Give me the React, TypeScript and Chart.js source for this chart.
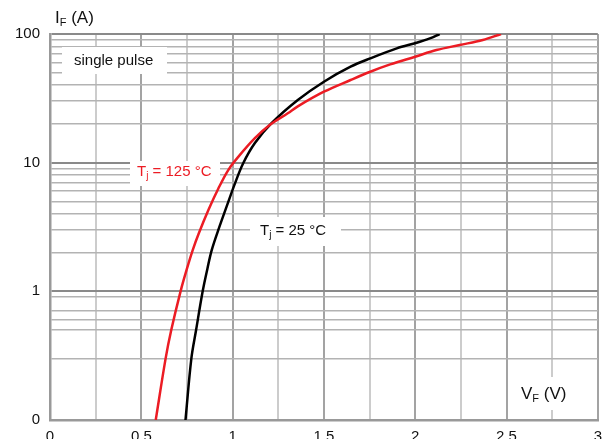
import React, { useEffect, useRef } from 'react';
import { Chart, registerables } from 'chart.js';

Chart.register(...registerables);

// forward voltage (V) vs forward current (A)
const VF_125 = [0.579, 0.633, 0.664, 0.715, 0.75, 0.782, 0.814, 0.868, 0.922, 0.977, 1.031, 1.122, 1.203, 1.302, 1.357, 1.5, 1.646, 1.754, 1.863, 2.0, 2.116, 2.243, 2.37, 2.47];
const IF_125 = [0.1, 0.3, 0.5, 1, 1.5, 2.1, 2.8, 4.3, 6.3, 8.8, 11.1, 15.5, 19.6, 24.2, 27.4, 35.6, 43.9, 50.9, 58, 66.6, 75, 82.1, 89.8, 100];

const VF_25 = [0.742, 0.774, 0.8, 0.836, 0.862, 0.886, 0.928, 0.967, 1.013, 1.058, 1.122, 1.212, 1.357, 1.5, 1.646, 1.754, 1.899, 2.008, 2.08, 2.134];
const IF_25 = [0.1, 0.3, 0.5, 1, 1.5, 2.1, 3.18, 4.55, 6.9, 9.9, 14.2, 20.2, 30.7, 42.6, 55.7, 64.7, 77.4, 85.6, 92.5, 100];

// horizontal grid lines of the original (the lowest decade is incomplete there)
const Y_GRID_LOW = [0.1, 0.3, 0.5, 0.6, 0.7, 0.9];
const Y_GRID_MID = [1, 2, 3, 4, 5, 6, 7, 8, 9];
const Y_GRID_HIGH = [10, 20, 30, 40, 50, 60, 70, 80, 90, 100];
const Y_GRID = [...Y_GRID_LOW, ...Y_GRID_MID, ...Y_GRID_HIGH];

const Y_LABEL_VALUES = [0.1, 1, 10, 100];
const Y_LABEL_TEXT = ['0', '1', '10', '100'];

const X_MIN = 0;
const X_MAX = 3;
const X_STEP = 0.25;

const RED = '#ec1c24';
const FONT = '"Liberation Sans", Arial, Helvetica, sans-serif';

type Seg = { t: string; sub?: boolean };

function drawRich(ctx: CanvasRenderingContext2D, segs: Seg[], x: number, y: number, size: number, color: string) {
  const subSize = Math.round(size * 0.66);
  ctx.save();
  ctx.fillStyle = color;
  ctx.textBaseline = 'middle';
  ctx.textAlign = 'left';
  let cx = x;
  segs.forEach(s => {
    ctx.font = `${s.sub ? subSize : size}px ${FONT}`;
    ctx.fillText(s.t, cx, s.sub ? y + size * 0.3 : y);
    cx += ctx.measureText(s.t).width;
  });
  ctx.restore();
}

const labelPlugin = {
  id: 'diodeLabels',
  beforeDatasetsDraw(chart: Chart) {
    const ctx = chart.ctx;
    const area = chart.chartArea;
    const box = (x0: number, y0: number, x1: number, y1: number) => {
      ctx.save();
      ctx.fillStyle = '#ffffff';
      ctx.fillRect(area.left + x0, area.top + y0, x1 - x0, y1 - y0);
      ctx.restore();
    };
    // white patches behind the annotations
    box(12, 13, 117, 40);
    box(80, 127, 170, 152);
    box(200, 183, 291, 212);
    box(465, 343, 528, 376);

    drawRich(ctx, [{ t: 'single pulse' }], area.left + 24, area.top + 27, 15, '#111');
    drawRich(ctx, [{ t: 'T' }, { t: 'j', sub: true }, { t: ' = 125 °C' }], area.left + 87, area.top + 138, 15, RED);
    drawRich(ctx, [{ t: 'T' }, { t: 'j', sub: true }, { t: ' = 25 °C' }], area.left + 210, area.top + 197, 15, '#111');
    drawRich(ctx, [{ t: 'V' }, { t: 'F', sub: true }, { t: ' (V)' }], area.left + 471, area.top + 360, 17, '#111');
  },
  afterDraw(chart: Chart) {
    const area = chart.chartArea;
    drawRich(chart.ctx, [{ t: 'I' }, { t: 'F', sub: true }, { t: ' (A)' }], area.left + 5, area.top - 16, 17, '#111');
  },
};

const App: React.FC = () => {
  const canvasRef = useRef<HTMLCanvasElement>(null);
  const chartRef = useRef<Chart | null>(null);

  useEffect(() => {
    document.body.style.margin = '0';
    if (!canvasRef.current) return;
    if (chartRef.current) chartRef.current.destroy();

    const hot = VF_125.map((v, i) => ({ x: v, y: IF_125[i] }));
    const cold = VF_25.map((v, i) => ({ x: v, y: IF_25[i] }));

    chartRef.current = new Chart(canvasRef.current, {
      type: 'line',
      data: {
        datasets: [
          {
            label: 'Tj = 125 °C',
            data: hot,
            borderColor: RED,
            borderWidth: 2.5,
            pointRadius: 0,
            tension: 0.35,
          },
          {
            label: 'Tj = 25 °C',
            data: cold,
            borderColor: '#000000',
            borderWidth: 2.5,
            pointRadius: 0,
            tension: 0.35,
          },
        ],
      },
      options: {
        animation: false,
        responsive: true,
        maintainAspectRatio: false,
        layout: { padding: { top: 34, right: 7, left: 0, bottom: 0 } },
        plugins: {
          legend: { display: false },
          tooltip: { enabled: false },
        },
        scales: {
          x: {
            type: 'linear',
            min: X_MIN,
            max: X_MAX,
            afterFit: (scale: any) => {
              scale.height = 19;
            },
            ticks: {
              stepSize: X_STEP,
              autoSkip: false,
              maxRotation: 0,
              padding: 8,
              color: '#111',
              font: { family: FONT, size: 15 },
              callback: (value: any) => (Number(value) % 0.5 === 0 ? String(value) : ''),
            },
            grid: {
              drawTicks: false,
              color: (c: any) => (c.tick && c.tick.value % 0.5 === 0 ? '#a3a3a3' : '#cccccc'),
              lineWidth: 2,
            },
            border: { color: '#999999', width: 2.5 },
          },
          y: {
            type: 'logarithmic',
            min: 0.1,
            max: 100,
            afterFit: (scale: any) => {
              scale.width = 50;
            },
            afterBuildTicks: (scale: any) => {
              scale.ticks = Y_GRID.map(v => ({ value: v }));
            },
            ticks: {
              autoSkip: false,
              padding: 10,
              color: '#111',
              font: { family: FONT, size: 15 },
              callback: (value: any) => {
                const k = Y_LABEL_VALUES.findIndex(v => Math.abs(v - Number(value)) < 1e-9);
                return k >= 0 ? Y_LABEL_TEXT[k] : '';
              },
            },
            grid: {
              drawTicks: false,
              color: (c: any) =>
                c.tick && Y_LABEL_VALUES.some(v => Math.abs(v - c.tick.value) < 1e-9) ? '#8a8a8a' : '#b3b3b3',
              lineWidth: (c: any) =>
                c.tick && Y_LABEL_VALUES.some(v => Math.abs(v - c.tick.value) < 1e-9) ? 2 : 1.6,
            },
            border: { color: '#999999', width: 2.5 },
          },
        },
      },
      plugins: [labelPlugin],
    });

    return () => {
      if (chartRef.current) {
        chartRef.current.destroy();
        chartRef.current = null;
      }
    };
  }, []);

  return (
    <div style={{ position: 'absolute', left: 0, top: 0, width: 610, height: 439, background: '#fff' }}>
      <canvas ref={canvasRef}></canvas>
    </div>
  );
};

export default App;
